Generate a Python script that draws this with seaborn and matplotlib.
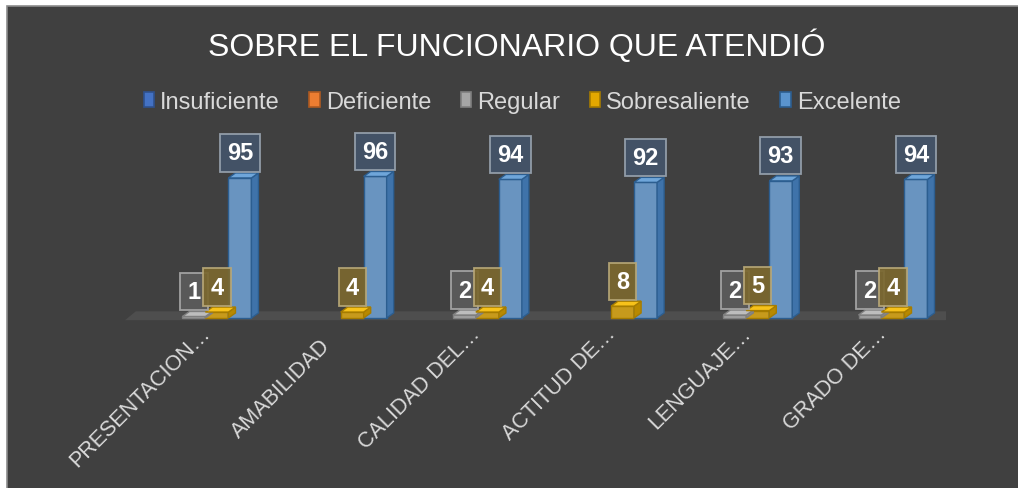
import matplotlib
matplotlib.use("Agg")
import matplotlib.pyplot as plt
from matplotlib.patches import Polygon, Rectangle
from matplotlib.transforms import ScaledTranslation
import seaborn as sns
import pandas as pd

categories = ["PRESENTACION…", "AMABILIDAD", "CALIDAD DEL…", "ACTITUD DE…", "LENGUAJE…", "GRADO DE…"]
series = ["Insuficiente", "Deficiente", "Regular", "Sobresaliente", "Excelente"]
insuficiente = [0, 0, 0, 0, 0, 0]
deficiente = [0, 0, 0, 0, 0, 0]
regular = [1, 0, 2, 0, 2, 2]
sobresaliente = [4, 4, 4, 8, 5, 4]
excelente = [95, 96, 94, 92, 93, 94]

colors = ["#4472C4", "#ED7D31", "#A5A5A5", "#E3A800", "#5A94CE"]
tops = ["#5B86D0", "#F29A5C", "#BDBDBD", "#F7C21A", "#6FA6DA"]
edges = ["#2F528F", "#AE5A21", "#7F7F7F", "#A67C00", "#2C5E90"]
sides = ["#35609F", "#C0642A", "#8A8A8A", "#B88900", "#3F73AA"]
box_face = [None, None, "#5C5C5C", "#7B682F", "#44546A"]
box_edge = [None, None, "#A8A8A8", "#B8A878", "#98A3AF"]

rows = []
for name, vals in zip(series, [insuficiente, deficiente, regular, sobresaliente, excelente]):
    for cat, v in zip(categories, vals):
        rows.append({"Categoria": cat, "Serie": name, "Valor": v})
df = pd.DataFrame(rows)

sns.set_theme(style="dark")
plt.rcParams["font.family"] = ["Liberation Sans", "DejaVu Sans"]

bg = "#404040"
fig = plt.figure(figsize=(10.18, 4.89), dpi=100, facecolor="white")
# chart frame
fig.patches.append(Rectangle((7 / 1018, -0.01), 1.02, (489 - 7) / 489 + 0.01, transform=fig.transFigure,
                             facecolor=bg, edgecolor="#8C8C8C", linewidth=1.2, zorder=-5))
ax = fig.add_axes([0.1228, 0.3387, 0.8062, 0.3918])
ax.set_facecolor("none")

sns.barplot(data=df, x="Categoria", y="Valor", hue="Serie", hue_order=series,
            palette=colors, width=0.85, ax=ax, legend=False, zorder=3)

ax.set_xlim(-0.51, 5.56)
ax.set_ylim(-3, 127)

# floor
ax.add_patch(Polygon([(-0.51, -1.5), (5.56, -1.5), (5.56 + 0.08, 4.5), (-0.51 + 0.08, 4.5)],
                     closed=True, facecolor="#4E4E4E", edgecolor="none", zorder=1))

dx, dy = 0.052, 3.4
for i, cont in enumerate(ax.containers):
    for bar in cont:
        h = bar.get_height()
        x0 = bar.get_x()
        w = bar.get_width()
        bar.set_edgecolor(edges[i])
        bar.set_linewidth(1.0)
        if h <= 0:
            bar.set_visible(False)
            continue
        side = Polygon([(x0 + w, 0), (x0 + w + dx, dy), (x0 + w + dx, h + dy), (x0 + w, h)],
                       closed=True, facecolor=sides[i], edgecolor=edges[i], lw=1.0, zorder=3)
        top = Polygon([(x0, h), (x0 + dx, h + dy), (x0 + w + dx, h + dy), (x0 + w, h)],
                      closed=True, facecolor=tops[i], edgecolor=edges[i], lw=1.0, zorder=3)
        ax.add_patch(side)
        ax.add_patch(top)
        ax.annotate(f"{int(h)}", (x0 + w / 2, h), xytext=(0, 18), textcoords="offset points",
                    ha="center", va="center", fontsize=17, fontweight="bold", color="white", zorder=5,
                    bbox=dict(boxstyle="square,pad=0.3", facecolor=box_face[i], alpha=0.92,
                              edgecolor=box_edge[i], linewidth=1.3))

ax.set_xlabel("")
ax.set_ylabel("")
ax.set_yticks([])
ax.tick_params(axis="x", length=0, pad=14)
ax.set_xticks(range(len(categories)))
ax.set_xticklabels(categories, rotation=45, ha="right", va="center", rotation_mode="anchor",
                   fontsize=15.5, color="#D9D9D9")
for lab in ax.get_xticklabels():
    # truncated labels sit a bit further up-right in the original
    if lab.get_text().endswith("…"):
        shift = ScaledTranslation(13 / 100, 12 / 100, fig.dpi_scale_trans)
    else:
        shift = ScaledTranslation(-2 / 100, 0, fig.dpi_scale_trans)
    lab.set_transform(lab.get_transform() + shift)
for s in ax.spines.values():
    s.set_visible(False)

fig.text(0.508, 0.905, "SOBRE EL FUNCIONARIO QUE ATENDIÓ", ha="center", va="center",
         fontsize=23, color="white")

handles = [Rectangle((0, 0), 1, 1, facecolor=c, edgecolor=e, lw=1.2) for c, e in zip(colors, edges)]
fig.legend(handles, series, loc="center", bbox_to_anchor=(0.513, 0.789), ncol=5, frameon=False,
           fontsize=17, labelcolor="#D9D9D9",
           handlelength=0.45, handleheight=0.6, handletextpad=0.25, columnspacing=1.25)

fig.savefig("out.png", dpi=100, facecolor="white")
